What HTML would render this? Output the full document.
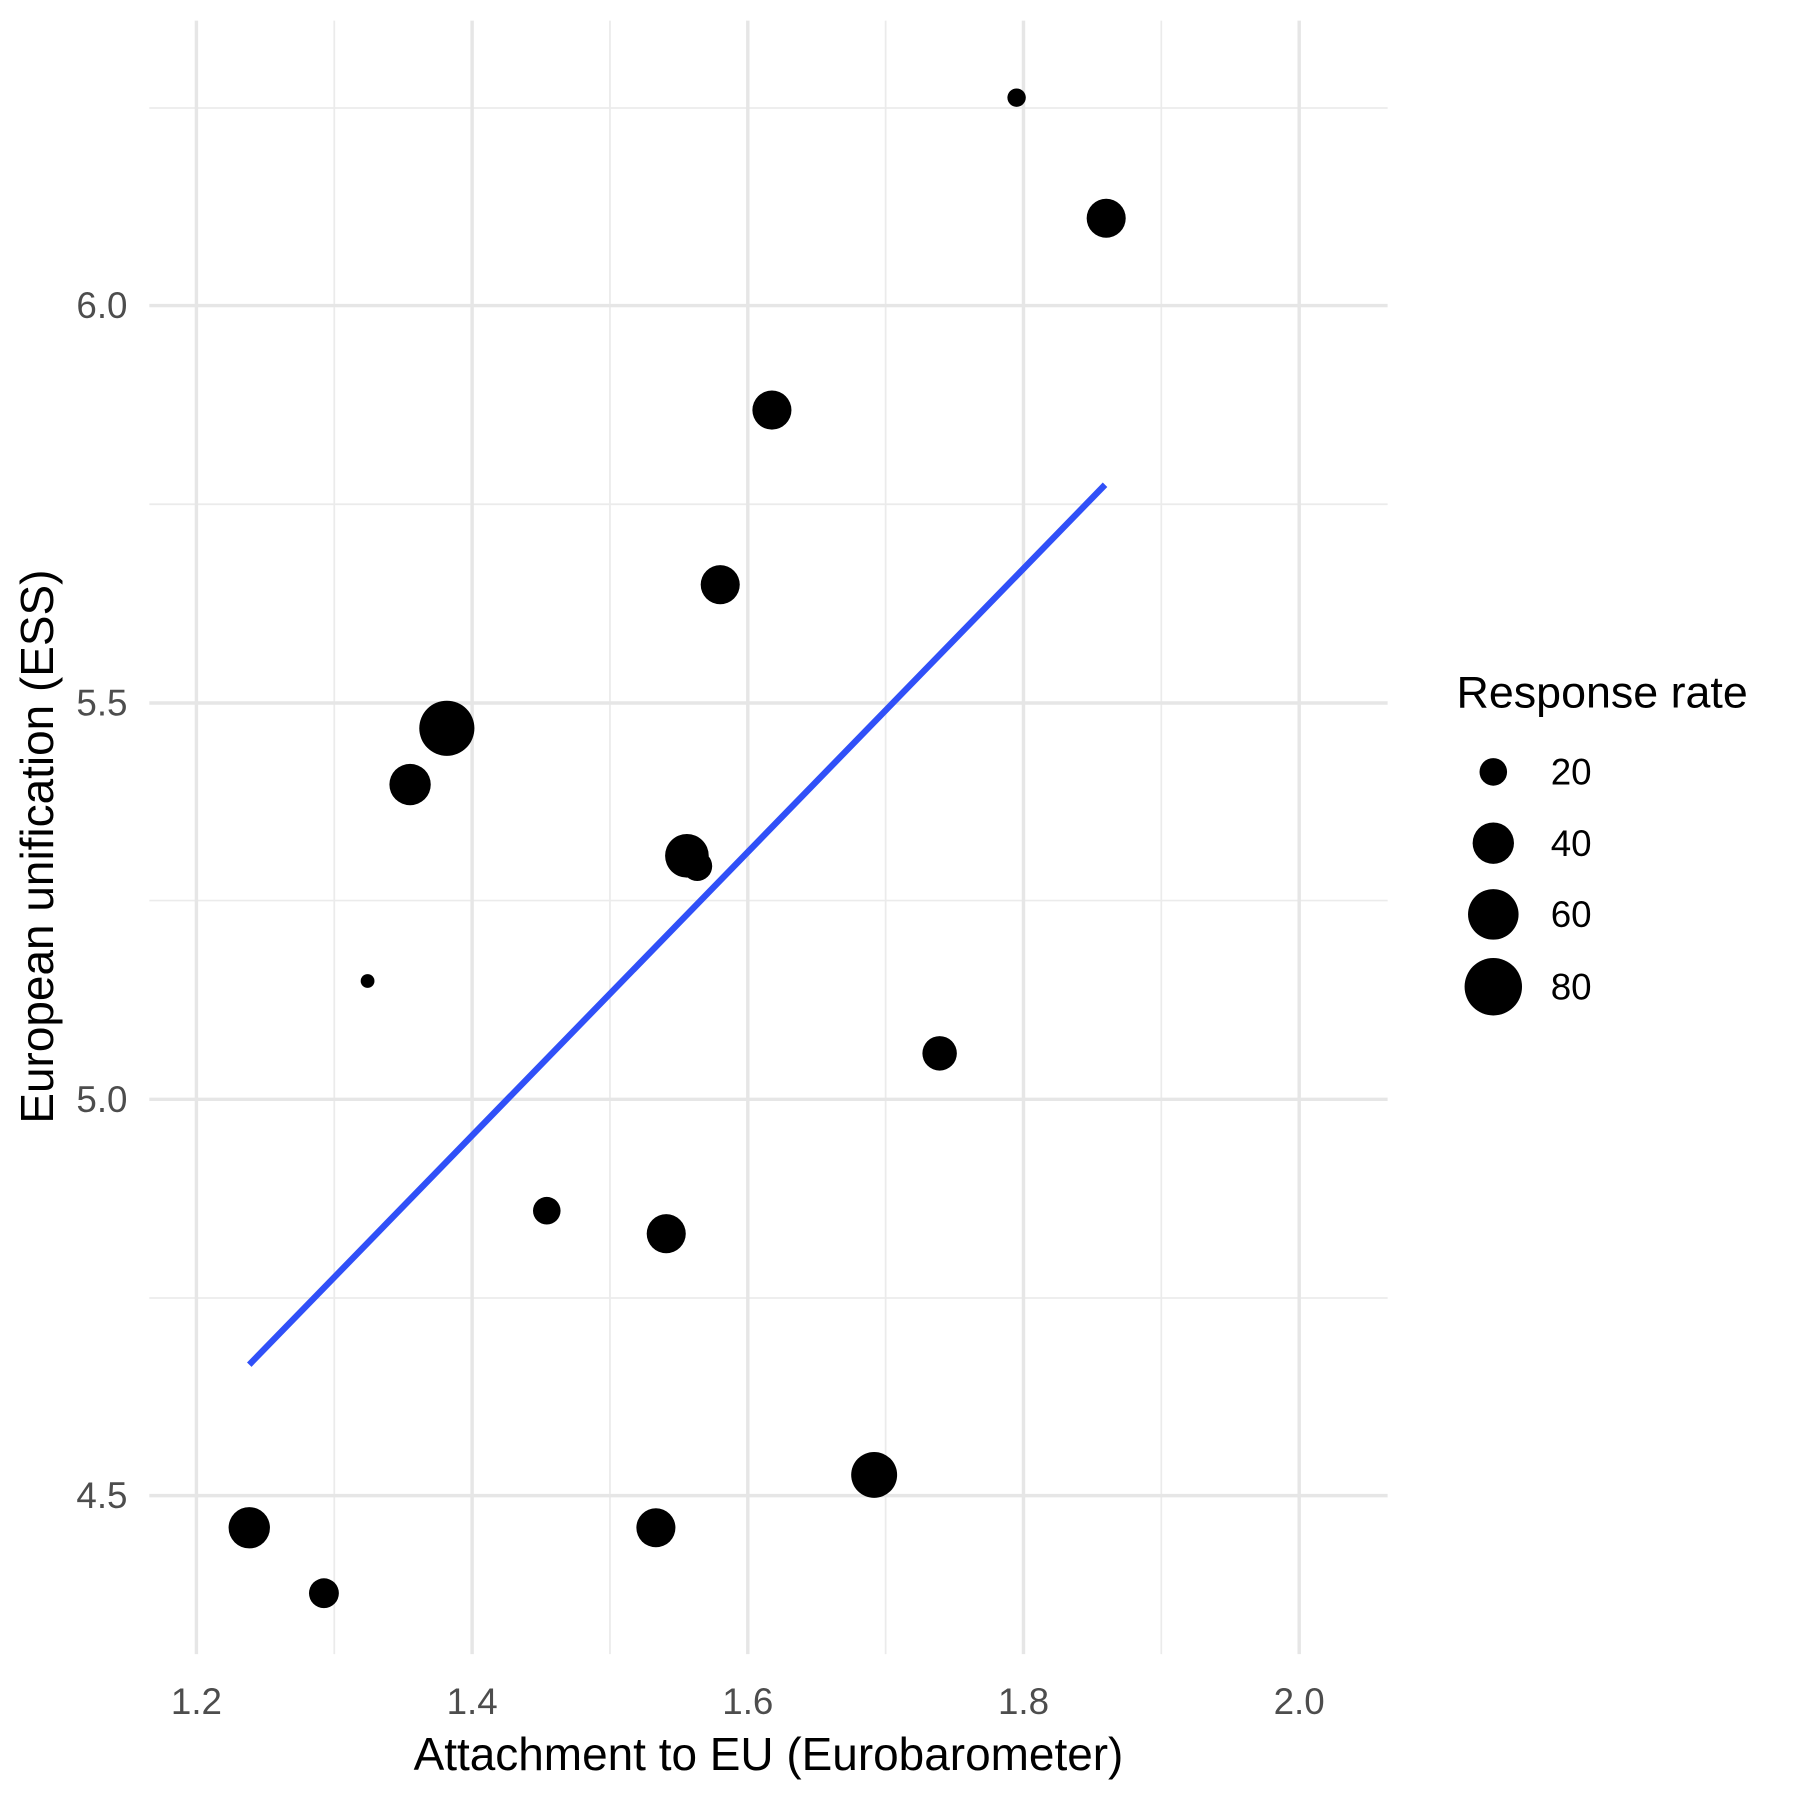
<!DOCTYPE html>
<html><head><meta charset="utf-8"><style>html,body{margin:0;padding:0;background:#fff}svg{display:block}</style></head>
<body>
<svg width="1800" height="1800" viewBox="0 0 1567 1567" xmlns="http://www.w3.org/2000/svg" font-family="Liberation Sans, Arial, sans-serif">
<rect width="1567" height="1567" fill="#fff"/>
<g stroke="#ebebeb" stroke-width="1.5">
<line x1="291" y1="18" x2="291" y2="1440"/><line x1="531" y1="18" x2="531" y2="1440"/><line x1="771" y1="18" x2="771" y2="1440"/><line x1="1011" y1="18" x2="1011" y2="1440"/>
<line x1="130" y1="94" x2="1208" y2="94"/><line x1="130" y1="439" x2="1208" y2="439"/><line x1="130" y1="784" x2="1208" y2="784"/><line x1="130" y1="1130" x2="1208" y2="1130"/>
</g>
<g stroke="#e6e6e6" stroke-width="3">
<line x1="171" y1="18" x2="171" y2="1440"/><line x1="411" y1="18" x2="411" y2="1440"/><line x1="651" y1="18" x2="651" y2="1440"/><line x1="891" y1="18" x2="891" y2="1440"/><line x1="1131" y1="18" x2="1131" y2="1440"/>
<line x1="130" y1="266" x2="1208" y2="266"/><line x1="130" y1="612" x2="1208" y2="612"/><line x1="130" y1="957" x2="1208" y2="957"/><line x1="130" y1="1302" x2="1208" y2="1302"/>
</g>
<g fill="#000">
<circle cx="885" cy="85" r="8"/><circle cx="963" cy="190" r="17"/><circle cx="672" cy="357" r="17"/><circle cx="627" cy="509" r="17"/>
<circle cx="389" cy="634" r="24"/><circle cx="357" cy="683" r="18"/><circle cx="598" cy="745" r="19"/><circle cx="607" cy="754" r="13"/>
<circle cx="320" cy="854" r="6"/><circle cx="818" cy="917" r="15"/><circle cx="476" cy="1054" r="12"/><circle cx="580" cy="1074" r="17"/>
<circle cx="761" cy="1284" r="20"/><circle cx="217" cy="1330" r="18"/><circle cx="571" cy="1330" r="17"/><circle cx="282" cy="1387" r="13"/>
</g>
<line x1="217" y1="1188" x2="962" y2="422" stroke="#3050f8" stroke-width="5.5"/>
<g fill="#4d4d4d" font-size="32">
<g text-anchor="middle"><text x="171" y="1492">1.2</text><text x="411" y="1492">1.4</text><text x="651" y="1492">1.6</text><text x="891" y="1492">1.8</text><text x="1131" y="1492">2.0</text></g>
<g text-anchor="end"><text x="111" y="277">6.0</text><text x="111" y="623">5.5</text><text x="111" y="968">5.0</text><text x="111" y="1313">4.5</text></g>
</g>
<text x="669" y="1541" text-anchor="middle" font-size="40" fill="#000">Attachment to EU (Eurobarometer)</text>
<text transform="translate(46,737) rotate(-90)" text-anchor="middle" font-size="40" fill="#000">European unification (ESS)</text>
<text x="1268" y="616" font-size="39" fill="#000">Response rate</text>
<g fill="#000"><circle cx="1300" cy="672" r="12"/><circle cx="1300" cy="734" r="18"/><circle cx="1300" cy="796" r="22"/><circle cx="1300" cy="859" r="25"/></g>
<g font-size="32" fill="#000"><text x="1350" y="683">20</text><text x="1350" y="745">40</text><text x="1350" y="807">60</text><text x="1350" y="870">80</text></g>
</svg>
</body></html>
